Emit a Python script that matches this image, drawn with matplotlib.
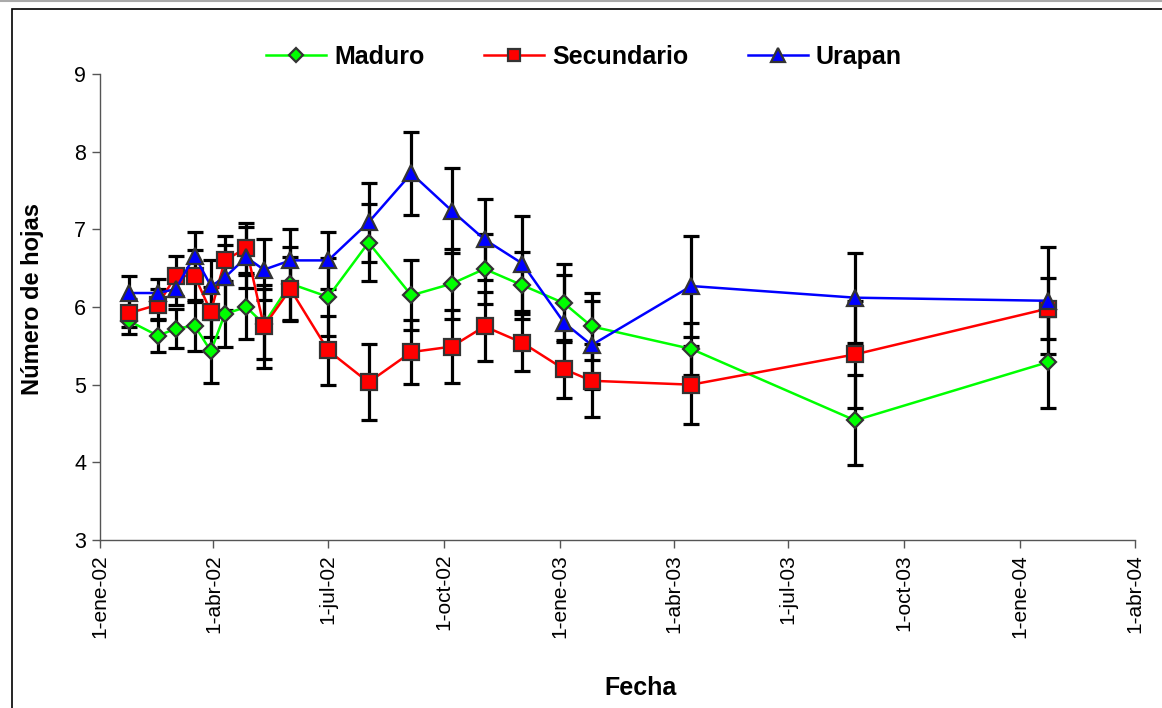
import matplotlib
matplotlib.use("Agg")
import matplotlib.pyplot as plt
import matplotlib.dates as mdates
from matplotlib.patches import Rectangle
from matplotlib.lines import Line2D
import datetime as dt

# ---- data ----
fechas = ["2002-01-24", "2002-02-16", "2002-03-02", "2002-03-17", "2002-03-30",
          "2002-04-10", "2002-04-27", "2002-05-11", "2002-06-01", "2002-07-01",
          "2002-08-02", "2002-09-05", "2002-10-07", "2002-11-02", "2002-12-02",
          "2003-01-04", "2003-01-26", "2003-04-15", "2003-08-23", "2004-01-23"]

maduro = [5.82, 5.63, 5.72, 5.76, 5.43, 5.91, 6.00, 5.78, 6.30, 6.13,
          6.83, 6.15, 6.30, 6.49, 6.28, 6.05, 5.75, 5.46, 4.54, 5.29]
maduro_err = [0.17, 0.21, 0.25, 0.33, 0.41, 0.42, 0.41, 0.45, 0.47, 0.50,
              0.49, 0.45, 0.45, 0.45, 0.43, 0.50, 0.43, 0.34, 0.58, 0.59]

secundario = [5.92, 6.03, 6.40, 6.40, 5.94, 6.60, 6.76, 5.75, 6.23, 5.44,
              5.03, 5.42, 5.49, 5.75, 5.54, 5.20, 5.05, 5.00, 5.39, 5.98]
secundario_err = [0.18, 0.20, 0.26, 0.33, 0.32, 0.31, 0.32, 0.53, 0.41, 0.45,
                  0.49, 0.41, 0.47, 0.44, 0.37, 0.37, 0.47, 0.50, 0.69, 0.39]

urapan = [6.18, 6.18, 6.23, 6.66, 6.27, 6.38, 6.64, 6.48, 6.60, 6.60,
          7.09, 7.72, 7.24, 6.87, 6.56, 5.80, 5.51, 6.27, 6.12, 6.08]
urapan_err = [0.22, 0.18, 0.20, 0.31, 0.33, 0.42, 0.39, 0.39, 0.41, 0.37,
              0.51, 0.53, 0.55, 0.52, 0.61, 0.61, 0.57, 0.65, 0.58, 0.69]

tick_fechas = ["2002-01-01", "2002-04-01", "2002-07-01", "2002-10-01", "2003-01-01",
               "2003-04-01", "2003-07-01", "2003-10-01", "2004-01-01", "2004-04-01"]
tick_labels = ["1-ene-02", "1-abr-02", "1-jul-02", "1-oct-02", "1-ene-03",
               "1-abr-03", "1-jul-03", "1-oct-03", "1-ene-04", "1-abr-04"]
y_ticks = [3, 4, 5, 6, 7, 8, 9]

series_names = ["Maduro", "Secundario", "Urapan"]

# ---- figure ----
plt.rcParams['font.family'] = ['Liberation Sans', 'DejaVu Sans']
W, H = 1162, 708
fig = plt.figure(figsize=(W / 100, H / 100), dpi=100)

# outer chart border (cut on right/bottom like the reference)
fig.patches.append(Rectangle((12 / W, -0.05), 1.2, 1 - 9 / H + 0.05, transform=fig.transFigure,
                             fill=False, edgecolor='black', linewidth=1.2, zorder=0))
fig.add_artist(Line2D([0, 1], [1 - 1 / H, 1 - 1 / H], transform=fig.transFigure,
                      color='#aaaaaa', linewidth=1.5))

ax = fig.add_axes([100 / W, 1 - 540 / H, (1135 - 100) / W, (540 - 74) / H])

xd = [mdates.date2num(dt.datetime.strptime(s, "%Y-%m-%d")) for s in fechas]
xt = [mdates.date2num(dt.datetime.strptime(s, "%Y-%m-%d")) for s in tick_fechas]

styles = [
    dict(color='#00FF00', marker='D', ms=8.5, mfc='#00FF00'),
    dict(color='#FF0000', marker='s', ms=11, mfc='#FF0000'),
    dict(color='#0000FF', marker='^', ms=12, mfc='#0000FF'),
]
vals = [maduro, secundario, urapan]
errs = [maduro_err, secundario_err, urapan_err]

for v, e in zip(vals, errs):
    ax.errorbar(xd, v, yerr=e, fmt='none', ecolor='black', elinewidth=2.3,
                capsize=6, capthick=2.3, zorder=2)

handles = []
for name, v, st in zip(series_names, vals, styles):
    h, = ax.plot(xd, v, color=st['color'], linewidth=1.8, marker=st['marker'],
                 markersize=st['ms'], markerfacecolor=st['mfc'],
                 markeredgecolor='#333333', markeredgewidth=1.6, zorder=3, label=name)
    handles.append(h)

ax.set_xlim(xt[0], xt[-1])
ax.set_ylim(3, 9)
ax.set_xticks(xt)
ax.set_xticklabels(tick_labels, rotation=90, fontsize=15)
ax.set_yticks(y_ticks)
ax.set_yticklabels([str(t) for t in y_ticks], fontsize=15.5)

for s in ['top', 'right']:
    ax.spines[s].set_visible(False)
for s in ['left', 'bottom']:
    ax.spines[s].set_color('#555555')
    ax.spines[s].set_linewidth(1.0)
ax.tick_params(axis='both', direction='out', length=6, width=1.0, color='#555555', pad=4)

fig.text(33 / W, 1 - 299 / H, "Número de hojas", rotation=90, ha='center', va='center',
         fontsize=17, fontweight='bold')
fig.text(641 / W, 1 - 688 / H, "Fecha", ha='center', va='center',
         fontsize=18, fontweight='bold')

leg = fig.legend(handles=handles, loc='center', bbox_to_anchor=(584 / W, 1 - 57 / H),
                 ncol=3, frameon=False, prop={'weight': 'bold', 'size': 18},
                 handlelength=2.4, columnspacing=2.4, handletextpad=0.3, markerscale=0.85)

fig.savefig("out.png", dpi=100)
